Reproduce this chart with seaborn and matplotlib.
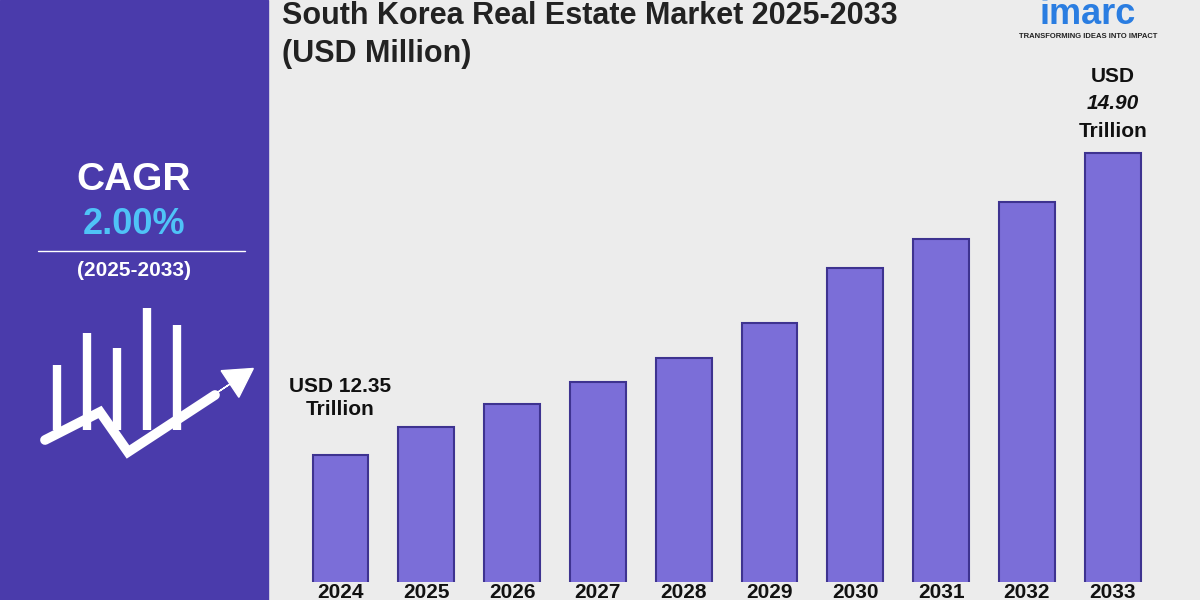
import matplotlib
matplotlib.use("Agg")
import matplotlib.pyplot as plt
import seaborn as sns
import pandas as pd
from matplotlib.patches import Rectangle, FancyArrow

years = ["2024", "2025", "2026", "2027", "2028", "2029", "2030", "2031", "2032", "2033"]
values = [12.35, 12.59, 12.78, 12.97, 13.17, 13.46, 13.93, 14.17, 14.48, 14.90]
icon_bars = [65, 97, 82, 122, 105]

sns.set_theme(style="white")
plt.rcParams['font.family'] = ['Liberation Sans', 'DejaVu Sans']

fig = plt.figure(figsize=(12, 6), dpi=100)
fig.patch.set_facecolor("#ececec")

bg = fig.add_axes([0, 0, 1, 1], zorder=-5)
bg.axis("off")
bg.add_patch(Rectangle((0, 0), 268/1200, 1, color="#4a3bab"))
bg.set_xlim(0, 1)
bg.set_ylim(0, 1)

ax = fig.add_axes([0.248, 0.03, 0.715, 0.87])
ax.set_facecolor("none")
df = pd.DataFrame({"year": years, "value": values})
sns.barplot(data=df, x="year", y="value", ax=ax, color="#7b6ed8", width=0.65,
            edgecolor="#3e3390", linewidth=1.5, saturation=1)
ax.set_ylim(11.28, 15.68)
ax.set_xlim(-0.5, 9.5)
for s in ax.spines.values():
    s.set_visible(False)
ax.set_yticks([])
ax.set_xlabel("")
ax.set_ylabel("")
ax.tick_params(axis="x", length=0, pad=1)
for t in ax.get_xticklabels():
    t.set_fontweight("bold")
    t.set_fontsize(15)
    t.set_color("#111111")

ax.text(0, values[0] + 0.3, "USD 12.35\nTrillion", ha="center", va="bottom",
        fontsize=15, fontweight="bold", color="#111111", linespacing=1.3)
ax.text(9, values[-1] + 0.56, "USD", ha="center", va="bottom",
        fontsize=15, fontweight="bold", color="#111111")
ax.text(9, values[-1] + 0.33, "14.90", ha="center", va="bottom",
        fontsize=15, fontweight="bold", fontstyle="italic", color="#111111")
ax.text(9, values[-1] + 0.1, "Trillion", ha="center", va="bottom",
        fontsize=15, fontweight="bold", color="#111111")

fig.text(282/1200, 1 - 16/600, "South Korea Real Estate Market 2025-2033", fontsize=22,
         fontweight="bold", color="#222222", va="center")
fig.text(282/1200, 1 - 54/600, "(USD Million)", fontsize=22, fontweight="bold",
         color="#222222", va="center")
fig.text(1088/1200, 1 - 14/600, "imarc", fontsize=26, fontweight="bold", color="#2a7de1",
         ha="center", va="center")
fig.text(1088/1200, 1 - 36/600, "TRANSFORMING IDEAS INTO IMPACT", fontsize=5.5,
         fontweight="bold", color="#222222", ha="center", va="center")

fig.text(134/1200, 1 - 180/600, "CAGR", fontsize=28, fontweight="bold", color="white",
         ha="center", va="center")
fig.text(134/1200, 1 - 225/600, "2.00%", fontsize=26, fontweight="bold", color="#4fc3f7",
         ha="center", va="center")
fig.lines.append(plt.Line2D([38/1200, 245/1200], [1 - 251/600, 1 - 251/600],
                            transform=fig.transFigure, color="white", lw=1))
fig.text(134/1200, 1 - 271/600, "(2025-2033)", fontsize=15, fontweight="bold", color="white",
         ha="center", va="center")

iax = fig.add_axes([0, 0, 268/1200, 1], zorder=5)
iax.set_facecolor("none")
iax.set_xlim(0, 268)
iax.set_ylim(600, 0)
iax.axis("off")
for i, h in enumerate(icon_bars):
    x = 57 + 30 * i
    iax.plot([x, x], [430, 430 - h], color="white", lw=6, solid_capstyle="butt")
iax.plot([45, 100, 128, 215], [440, 412, 452, 395], color="white", lw=7, solid_joinstyle="miter")
iax.add_patch(FancyArrow(200, 404, 30, -20, width=0, head_width=32, head_length=28,
                         color="white", length_includes_head=False))

fig.savefig("out.png", dpi=100)
